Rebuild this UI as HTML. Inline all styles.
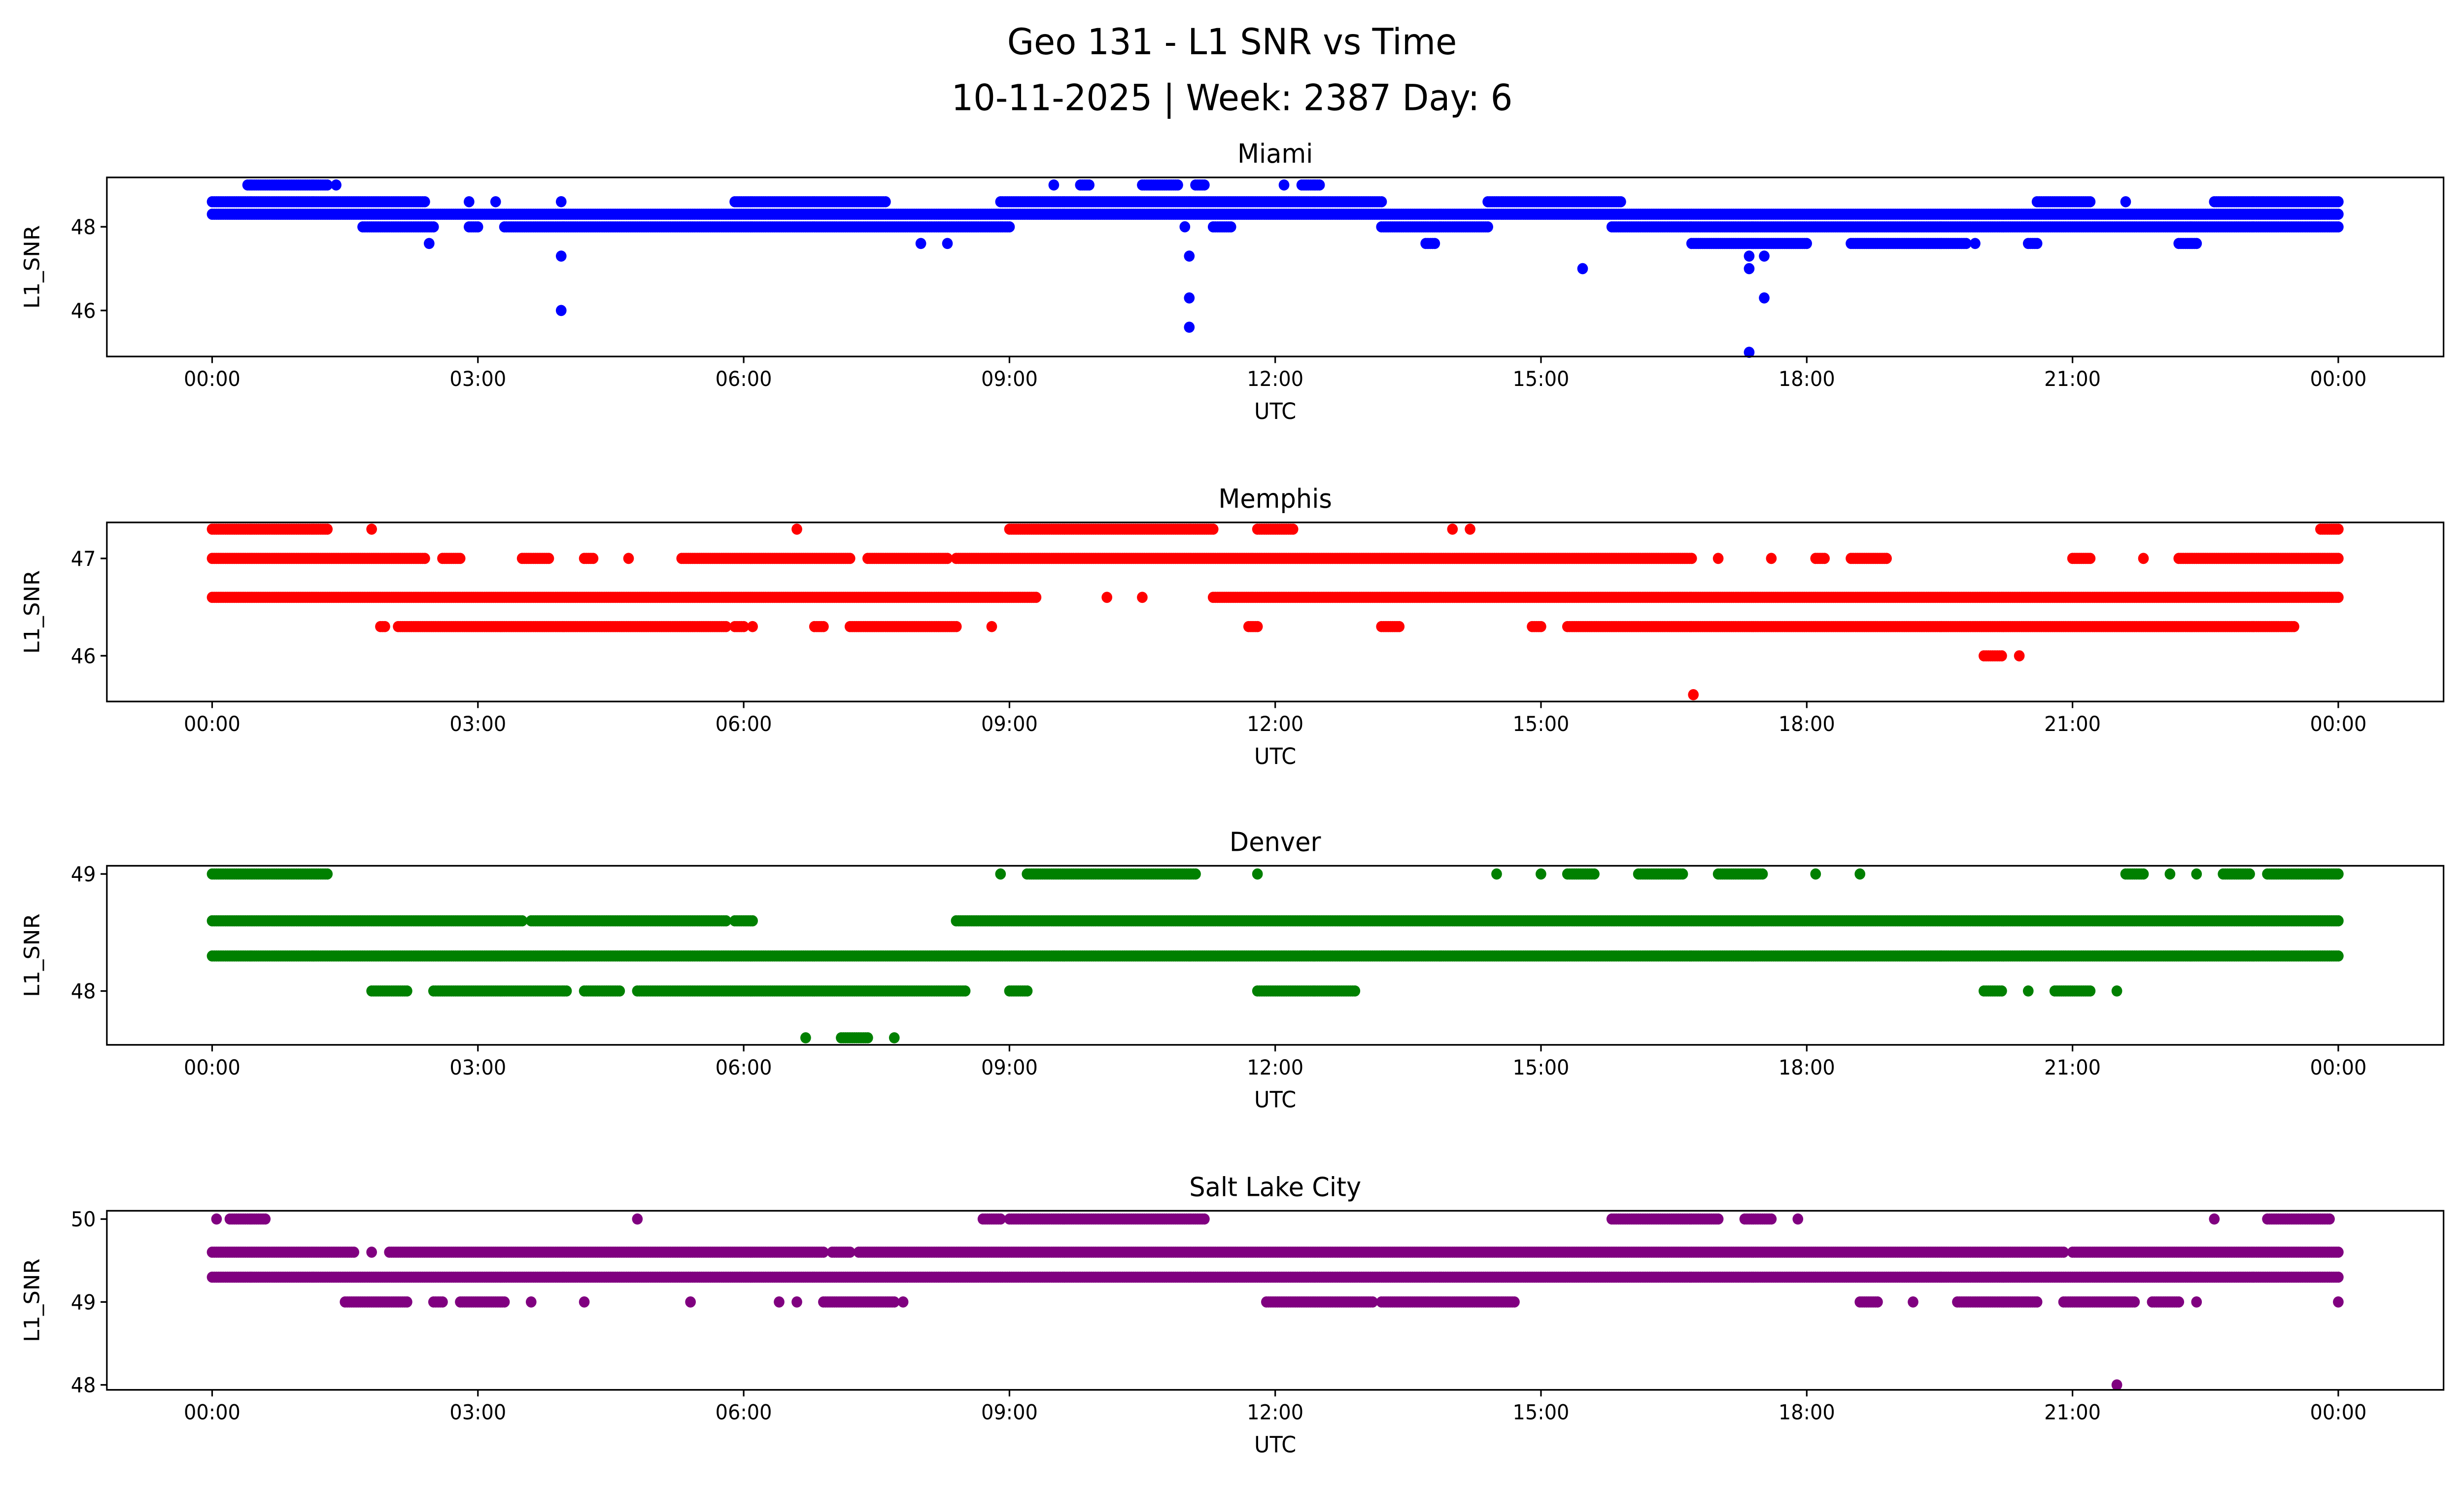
<!DOCTYPE html>
<html><head><meta charset="utf-8">
<style>
html,body{margin:0;padding:0;background:#fff;width:100%;height:100%;overflow:hidden;}
svg{display:block;position:absolute;left:0;top:0;width:100vw;height:100vh;font-family:"DejaVu Sans","Liberation Sans",sans-serif;}
</style></head>
<body>
<svg id="fig" viewBox="0 0 1568 910" preserveAspectRatio="none" xmlns="http://www.w3.org/2000/svg">
<rect x="0" y="0" width="1568" height="910" fill="#fff"/>
<text x="784" y="33" text-anchor="middle" font-size="22">Geo 131 - L1 SNR vs Time</text>
<text x="784" y="67" text-anchor="middle" font-size="22">10-11-2025 | Week: 2387 Day: 6</text>
<g id="panels"></g>
</svg>
<script>
// x ticks (hours) and labels
const xTickHours = [0,3,6,9,12,15,18,21,24];
const xTickLabels = ["00:00","03:00","06:00","09:00","12:00","15:00","18:00","21:00","00:00"];

// Miami
const miamiTitle = "Miami";
const miamiYTicks = [46,48];
const miamiYLim = [44.9,49.18];
const miamiLevels = [49,48.6,48.3,48,47.6];
const miamiSegments = [
  [[0.4,1.3],[1.4,1.4],[9.5,9.5],[9.8,9.9],[10.5,10.9],[11.1,11.2],[12.1,12.1],[12.3,12.5]],
  [[0,2.4],[2.9,2.9],[3.2,3.2],[5.9,7.6],[8.9,13.2],[14.4,15.9],[20.6,21.2],[21.6,21.6],[22.6,24]],
  [[0,24]],
  [[1.7,2.5],[2.9,3.0],[3.3,9.0],[11.3,11.5],[13.2,14.4],[15.8,24]],
  [[2.45,2.45],[8.0,8.0],[8.3,8.3],[13.7,13.8],[16.7,18.0],[18.5,19.8],[19.9,19.9],[20.5,20.6],[22.2,22.4]]
];
const miamiOutlierT = [3.94,3.94,3.94,11.03,11.03,11.03,10.98,15.47,17.35,17.35,17.35,17.52,17.52];
const miamiOutlierV = [48.6,47.3,46.0,47.3,46.3,45.6,48.0,47.0,47.3,47.0,45.0,46.3,47.3];

// Memphis
const memphisTitle = "Memphis";
const memphisYTicks = [46,47];
const memphisYLim = [45.53,47.37];
const memphisLevels = [47.3,47,46.6,46.3,46];
const memphisSegments = [
  [[0,1.3],[1.8,1.8],[6.6,6.6],[9.0,11.3],[11.8,12.2],[14.0,14.0],[14.2,14.2],[23.8,24]],
  [[0,2.4],[2.6,2.8],[3.5,3.8],[4.2,4.3],[4.7,4.7],[5.3,7.2],[7.4,8.3],[8.4,16.7],[17.0,17.0],[17.6,17.6],[18.1,18.2],[18.5,18.9],[21.0,21.2],[21.8,21.8],[22.2,24]],
  [[0,9.3],[10.1,10.1],[10.5,10.5],[11.3,24]],
  [[1.9,1.95],[2.1,5.8],[5.9,6.0],[6.1,6.1],[6.8,6.9],[7.2,8.4],[8.8,8.8],[11.7,11.8],[13.2,13.4],[14.9,15.0],[15.3,23.5]],
  [[20.0,20.2],[20.4,20.4]]
];
const memphisOutlierT = [16.72];
const memphisOutlierV = [45.6];

// Denver
const denverTitle = "Denver";
const denverYTicks = [48,49];
const denverYLim = [47.54,49.07];
const denverLevels = [49,48.6,48.3,48,47.6];
const denverSegments = [
  [[0,1.3],[8.9,8.9],[9.2,11.1],[11.8,11.8],[14.5,14.5],[15.0,15.0],[15.3,15.6],[16.1,16.6],[17.0,17.5],[18.1,18.1],[18.6,18.6],[21.6,21.8],[22.1,22.1],[22.4,22.4],[22.7,23.0],[23.2,24]],
  [[0,3.5],[3.6,5.8],[5.9,6.1],[8.4,24]],
  [[0,24]],
  [[1.8,2.2],[2.5,4.0],[4.2,4.6],[4.8,8.5],[9.0,9.2],[11.8,12.9],[20.0,20.2],[20.5,20.5],[20.8,21.2],[21.5,21.5]],
  [[6.7,6.7],[7.1,7.4],[7.7,7.7]]
];
const denverOutlierT = [];
const denverOutlierV = [];

// Salt Lake City
const slcTitle = "Salt Lake City";
const slcYTicks = [48,49,50];
const slcYLim = [47.94,50.1];
const slcLevels = [50,49.6,49.3,49,48];
const slcSegments = [
  [[0.05,0.05],[0.2,0.6],[4.8,4.8],[8.7,8.9],[9.0,11.2],[15.8,17.0],[17.3,17.6],[17.9,17.9],[22.6,22.6],[23.2,23.9]],
  [[0,1.6],[1.8,1.8],[2.0,6.9],[7.0,7.2],[7.3,20.9],[21.0,24]],
  [[0,24]],
  [[1.5,2.2],[2.5,2.6],[2.8,3.3],[3.6,3.6],[4.2,4.2],[5.4,5.4],[6.4,6.4],[6.6,6.6],[6.9,7.7],[7.8,7.8],[11.9,13.1],[13.2,14.7],[18.6,18.8],[19.2,19.2],[19.7,20.6],[20.9,21.7],[21.9,22.2],[22.4,22.4],[24,24]],
  [[21.5,21.5]]
];
const slcOutlierT = [];
const slcOutlierV = [];

const panels = [
  {title:miamiTitle, yTicks:miamiYTicks, yLim:miamiYLim, levels:miamiLevels, segs:miamiSegments, oT:miamiOutlierT, oV:miamiOutlierV, color:"#0000ff", top:108, key:"miami"},
  {title:memphisTitle, yTicks:memphisYTicks, yLim:memphisYLim, levels:memphisLevels, segs:memphisSegments, oT:memphisOutlierT, oV:memphisOutlierV, color:"#ff0000", top:318, key:"memphis"},
  {title:denverTitle, yTicks:denverYTicks, yLim:denverYLim, levels:denverLevels, segs:denverSegments, oT:denverOutlierT, oV:denverOutlierV, color:"#008000", top:527, key:"denver"},
  {title:slcTitle, yTicks:slcYTicks, yLim:slcYLim, levels:slcLevels, segs:slcSegments, oT:slcOutlierT, oV:slcOutlierV, color:"#800080", top:737, key:"salt-lake-city"}
];

const NS = "http://www.w3.org/2000/svg";
const root = document.getElementById("panels");
const L = 68, R = 1555, H = 109;
const x0 = 135, x24 = 1488;
function xScale(h){ return x0 + (x24 - x0) * h / 24; }
function mk(tag, attrs, parent){
  const e = document.createElementNS(NS, tag);
  for (const k in attrs) e.setAttribute(k, attrs[k]);
  parent.appendChild(e);
  return e;
}

panels.forEach(p => {
  const g = mk("g", {}, root);
  
  
  const T = p.top, B = p.top + H;
  const yScale = v => B - (v - p.yLim[0]) / (p.yLim[1] - p.yLim[0]) * H;

  const t = mk("text", {x:(L+R)/2, y:T-9, "text-anchor":"middle", "font-size":"16"}, g);
  
  
  t.textContent = p.title;

  const dots = mk("g", {fill:p.color}, g);
  
  
  p.levels.forEach((lv, i) => {
    const y = yScale(lv);
    p.segs[i].forEach(s => {
      for (let h = s[0]; h <= s[1] + 1e-9; h += 0.025) {
        const c = mk("circle", {cx:xScale(h).toFixed(1), cy:y.toFixed(1), r:3.4}, dots);
        
        
      }
    });
  });
  p.oT.forEach((h, i) => {
    const c = mk("circle", {cx:xScale(h), cy:yScale(p.oV[i]), r:3.4}, dots);
    
    
  });

  const frame = mk("rect", {x:L, y:T, width:R-L, height:H, fill:"none", stroke:"#000", "stroke-width":1}, g);
  
  

  xTickHours.forEach((h, i) => {
    const x = xScale(h);
    const tk = mk("line", {x1:x, x2:x, y1:B, y2:B+4, stroke:"#000", "stroke-width":1}, g);
    
    
    const lb = mk("text", {x:x, y:B+18, "text-anchor":"middle", "font-size":"12.5"}, g);
    
    
    lb.textContent = xTickLabels[i];
  });
  p.yTicks.forEach(v => {
    const y = yScale(v);
    const tk = mk("line", {x1:L-4, x2:L, y1:y, y2:y, stroke:"#000", "stroke-width":1}, g);
    
    
    const lb = mk("text", {x:L-7, y:y+4.5, "text-anchor":"end", "font-size":"12.5"}, g);
    
    
    lb.textContent = v;
  });
  const xl = mk("text", {x:(L+R)/2, y:B+38, "text-anchor":"middle", "font-size":"13.5"}, g);
  
  
  xl.textContent = "UTC";
  const yl = mk("text", {x:0, y:0, "text-anchor":"middle", "font-size":"13.5", transform:`translate(25,${T+H/2}) rotate(-90)`}, g);
  
  
  yl.textContent = "L1_SNR";
});
</script>
</body></html>
